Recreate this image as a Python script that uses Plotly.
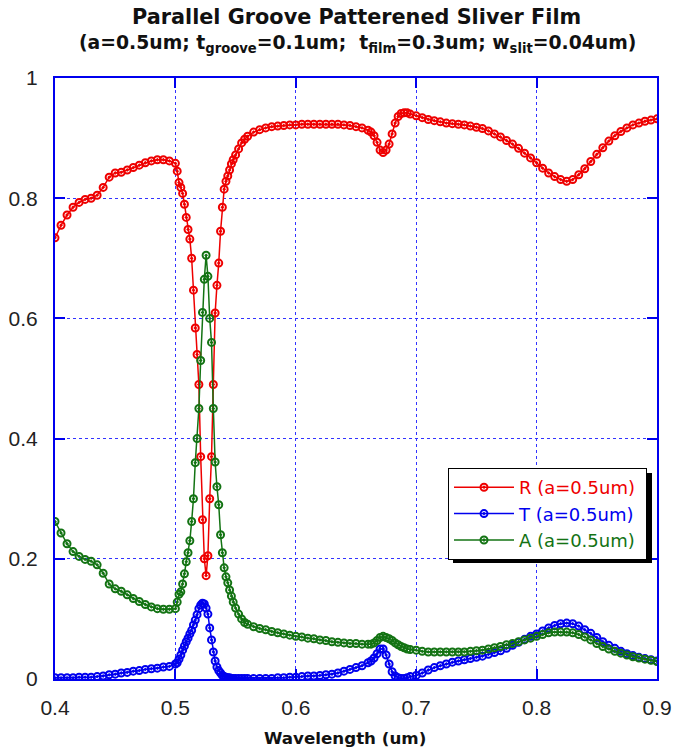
import plotly.graph_objects as go

wavelength = [
    0.400, 0.405, 0.410, 0.415, 0.420, 0.425, 0.430, 0.435, 0.440, 0.445,
    0.450, 0.455, 0.460, 0.465, 0.470, 0.475, 0.480, 0.485, 0.490, 0.495,
    0.500,
    0.5015, 0.503, 0.5045, 0.506, 0.5075, 0.509, 0.5105, 0.512, 0.5135, 0.515,
    0.5165, 0.518, 0.5195, 0.521, 0.5225, 0.524, 0.5255, 0.527, 0.5285, 0.530,
    0.5315, 0.533, 0.5345, 0.536, 0.5375, 0.539, 0.5405, 0.542, 0.5435, 0.545,
    0.5465, 0.548, 0.550,
    0.5525, 0.555, 0.5575, 0.560, 0.565, 0.570, 0.575, 0.580, 0.585, 0.590,
    0.595, 0.600, 0.605, 0.610, 0.615, 0.620, 0.625, 0.630, 0.635, 0.640,
    0.645, 0.650, 0.655, 0.660, 0.6625, 0.665, 0.6675, 0.670, 0.6725, 0.675,
    0.6775, 0.680, 0.6825, 0.685, 0.6875, 0.690, 0.6925, 0.695,
    0.700, 0.705, 0.710, 0.715, 0.720, 0.725, 0.730, 0.735, 0.740, 0.745,
    0.750, 0.755, 0.760, 0.765, 0.770, 0.775, 0.780, 0.785, 0.790, 0.795,
    0.800, 0.805, 0.810, 0.815, 0.820, 0.825, 0.830, 0.835, 0.840, 0.845,
    0.850, 0.855, 0.860, 0.865, 0.870, 0.875, 0.880, 0.885, 0.890, 0.895,
    0.900,
]

R_vals = [
    0.734, 0.755, 0.772, 0.785, 0.793, 0.798, 0.800, 0.805, 0.818, 0.835,
    0.842, 0.843, 0.847, 0.851, 0.855, 0.859, 0.862, 0.864, 0.864, 0.862,
    0.858,
    0.845, 0.826, 0.818, 0.808, 0.790, 0.768, 0.748, 0.732, 0.700, 0.647,
    0.584, 0.540, 0.490, 0.370, 0.265, 0.200, 0.172, 0.205, 0.300, 0.370,
    0.490, 0.609, 0.655, 0.692, 0.745, 0.785, 0.815, 0.828, 0.837, 0.847,
    0.857, 0.864, 0.872,
    0.882, 0.892, 0.898, 0.903, 0.910, 0.914, 0.917, 0.919, 0.920, 0.921,
    0.922, 0.922, 0.923, 0.923, 0.923, 0.923, 0.923, 0.923, 0.923, 0.922,
    0.921, 0.919, 0.917, 0.913, 0.910, 0.904, 0.893, 0.880, 0.876, 0.880,
    0.890, 0.907, 0.925, 0.936, 0.941, 0.942, 0.942, 0.940,
    0.937, 0.934, 0.931, 0.929, 0.927, 0.925, 0.924, 0.923, 0.922, 0.920,
    0.918, 0.916, 0.912, 0.907, 0.902, 0.896, 0.890, 0.883, 0.875, 0.867,
    0.859, 0.850, 0.842, 0.836, 0.831, 0.828, 0.831, 0.839, 0.849, 0.861,
    0.873, 0.884, 0.895, 0.904, 0.911, 0.917, 0.922, 0.925, 0.928, 0.930,
    0.932,
]

T_vals = [
    0.002, 0.002, 0.002, 0.002, 0.003, 0.003, 0.003, 0.004, 0.005, 0.007,
    0.008, 0.010, 0.011, 0.013, 0.014, 0.016, 0.017, 0.018, 0.020, 0.021,
    0.025,
    0.027, 0.033, 0.040, 0.048, 0.055, 0.062, 0.068, 0.075, 0.081, 0.090,
    0.098, 0.107, 0.117, 0.123, 0.126, 0.125, 0.118, 0.108, 0.085, 0.065,
    0.045, 0.030, 0.020, 0.014, 0.010, 0.006, 0.004, 0.003, 0.002, 0.002,
    0.001, 0.001, 0.001,
    0.001, 0.001, 0.001, 0.001, 0.001, 0.001, 0.001, 0.001, 0.002, 0.002,
    0.003, 0.003, 0.004, 0.005, 0.005, 0.006, 0.007, 0.008, 0.010, 0.013,
    0.016, 0.019, 0.022, 0.027, 0.030, 0.035, 0.042, 0.050, 0.050, 0.040,
    0.025, 0.012, 0.005, 0.002, 0.001, 0.001, 0.002, 0.004,
    0.006, 0.010, 0.015, 0.019, 0.022, 0.025, 0.028, 0.030, 0.032, 0.034,
    0.036, 0.038, 0.041, 0.044, 0.047, 0.051, 0.056, 0.061, 0.066, 0.071,
    0.075, 0.080, 0.085, 0.089, 0.092, 0.093, 0.092, 0.088, 0.082, 0.076,
    0.069, 0.062, 0.056, 0.051, 0.046, 0.042, 0.039, 0.036, 0.034, 0.032,
    0.030,
]

A_vals = [
    0.262, 0.243, 0.225, 0.212, 0.204, 0.199, 0.196, 0.190, 0.176, 0.158,
    0.150, 0.146, 0.140, 0.134, 0.129, 0.124, 0.120, 0.117, 0.116, 0.116,
    0.117,
    0.128, 0.141, 0.145, 0.158, 0.175, 0.195, 0.210, 0.230, 0.262, 0.300,
    0.360, 0.400, 0.450, 0.530, 0.610, 0.665, 0.705, 0.670, 0.600, 0.560,
    0.450, 0.361, 0.320, 0.290, 0.240, 0.210, 0.185, 0.170, 0.160, 0.148,
    0.138, 0.128, 0.118,
    0.108, 0.100, 0.094, 0.091, 0.087, 0.084, 0.082, 0.079, 0.077, 0.075,
    0.073, 0.071, 0.070, 0.068, 0.067, 0.065, 0.064, 0.062, 0.061, 0.060,
    0.059, 0.059, 0.058, 0.058, 0.058, 0.060, 0.064, 0.069, 0.071, 0.069,
    0.067, 0.064, 0.060, 0.057, 0.054, 0.052, 0.050, 0.049,
    0.048, 0.046, 0.045, 0.045, 0.045, 0.045, 0.045, 0.045, 0.045, 0.046,
    0.047, 0.048, 0.050, 0.052, 0.054, 0.057, 0.059, 0.062, 0.065, 0.068,
    0.071, 0.074, 0.077, 0.078, 0.078, 0.078, 0.077, 0.074, 0.070, 0.065,
    0.059, 0.054, 0.050, 0.046, 0.043, 0.040, 0.037, 0.035, 0.033, 0.031,
    0.029,
]

series_names = ["R (a=0.5um)", "T (a=0.5um)", "A (a=0.5um)"]
series_colors = ["#ee0000", "#0000ee", "#137313"]
x_ticks = [0.4, 0.5, 0.6, 0.7, 0.8, 0.9]
x_tick_text = ["0.4", "0.5", "0.6", "0.7", "0.8", "0.9"]
y_ticks = [0, 0.2, 0.4, 0.6, 0.8, 1]
y_tick_text = ["0", "0.2", "0.4", "0.6", "0.8", "1"]
title_line1 = "Parallel Groove Patterened Sliver Film"
title_line2 = "(a=0.5um; t<sub>groove</sub>=0.1um;  t<sub>film</sub>=0.3um; w<sub>slit</sub>=0.04um)"
x_title = "Wavelength (um)"

fig = go.Figure()
for name, vals, col in zip(series_names, [R_vals, T_vals, A_vals], series_colors):
    fig.add_trace(go.Scatter(
        x=wavelength, y=vals, mode="lines+markers",
        name=f'<span style="color:{col}">{name}\u00a0</span>',
        line=dict(color=col, width=1.5),
        marker=dict(symbol="circle-open-dot", size=7, color=col,
                    line=dict(width=2, color=col)),
    ))

PL, PR, PT, PB = 55, 657, 78, 679
W, H = 673, 752

def px_x(p):
    return (p - PL) / (PR - PL)

def px_y(p):
    return (PB - p) / (PB - PT)

# legend shadow
fig.add_shape(type="rect", xref="paper", yref="paper",
              x0=px_x(453), x1=px_x(652), y0=px_y(563), y1=px_y(473),
              fillcolor="black", line=dict(width=0), layer="above")

TITLE_FONT = "DejaVu Sans, Verdana, Arial"
TICK_FONT = "Liberation Sans Narrow, Arial Narrow, Liberation Sans"

fig.add_annotation(text=f"<b>{title_line1}</b>", xref="paper", yref="paper",
                   x=px_x(356), y=px_y(17), xanchor="center", yanchor="middle",
                   showarrow=False, font=dict(family=TITLE_FONT, size=20.8, color="#111"))
fig.add_annotation(text=f"<b>{title_line2}</b>", xref="paper", yref="paper",
                   x=px_x(357), y=px_y(44), xanchor="center", yanchor="middle",
                   showarrow=False, font=dict(family=TITLE_FONT, size=18.8, color="#111"))
fig.add_annotation(text=f"<b>{x_title}</b>", xref="paper", yref="paper",
                   x=px_x(345), y=px_y(738), xanchor="center", yanchor="middle",
                   showarrow=False, font=dict(family=TITLE_FONT, size=16.7, color="#111"))

axis_common = dict(
    showline=True, linecolor="#0000ee", linewidth=2, mirror="ticks",
    ticks="inside", ticklen=10, tickwidth=1.5, tickcolor="#0000ee",
    showgrid=True, gridcolor="#3333ff", griddash="dot", gridwidth=1,
    zeroline=False, automargin=False,
    tickfont=dict(family=TICK_FONT, size=21, color="#222"),
)

fig.update_layout(
    width=W, height=H,
    margin=dict(l=PL, r=W - PR, t=PT, b=H - PB, autoexpand=False),
    paper_bgcolor="white", plot_bgcolor="white",
    xaxis=dict(range=[0.4, 0.9], tickvals=x_ticks, ticktext=x_tick_text,
               ticklabelstandoff=9, **axis_common),
    yaxis=dict(range=[0, 1], tickvals=y_ticks, ticktext=y_tick_text,
               ticklabelstandoff=11, **axis_common),
    legend=dict(x=px_x(448), y=px_y(468), xanchor="left", yanchor="top",
                bgcolor="white", bordercolor="black", borderwidth=1,
                font=dict(family=TITLE_FONT, size=18),
                itemwidth=60, tracegroupgap=0),
    showlegend=True,
)

fig.write_html("out.html", config={"displayModeBar": False},
               post_script="document.body.style.margin='0';document.body.style.padding='0';")
